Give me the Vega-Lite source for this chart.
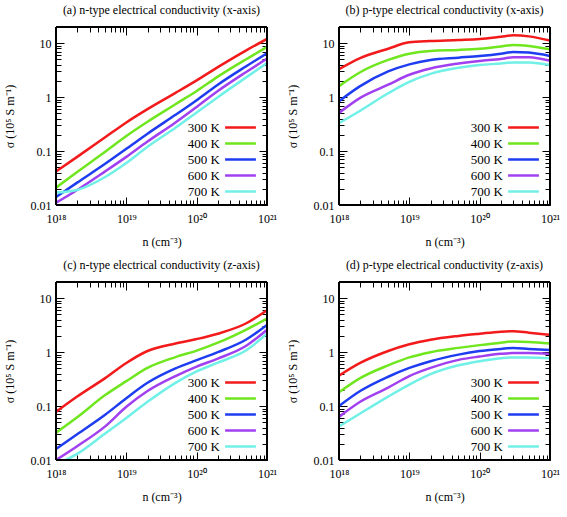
{
"$schema": "https://vega.github.io/schema/vega-lite/v6.json",
"background": "white",
"padding": {"left": 2, "top": 3, "right": 3, "bottom": 3},
"config": {
  "view": {"stroke": "#000000", "strokeWidth": 1},
  "font": "Liberation Serif",
  "axis": {"grid": false, "zindex": 1, "labelFont": "Liberation Serif", "labelFontSize": 12, "labelColor": "black", "titleFont": "Liberation Serif", "titleFontSize": 12, "titleFontWeight": "normal", "titleColor": "black", "tickColor": "#000000", "tickWidth": 1, "domainColor": "#000000", "labelOverlap": false, "labelFlush": false},
  "title": {"font": "Liberation Serif", "fontSize": 12, "fontWeight": "normal", "color": "black", "offset": 10, "anchor": "middle", "frame": "group"},
  "legend": {"orient": "bottom-right", "offset": 6, "padding": 0, "title": null}
},
"datasets": {"d": [
{"p":"a","T":"300 K","n":1e18,"s":0.042},{"p":"a","T":"300 K","n":2e18,"s":0.078},{"p":"a","T":"300 K","n":5e18,"s":0.18},{"p":"a","T":"300 K","n":1e19,"s":0.34},{"p":"a","T":"300 K","n":2e19,"s":0.6},{"p":"a","T":"300 K","n":5e19,"s":1.2},{"p":"a","T":"300 K","n":1e20,"s":2.05},{"p":"a","T":"300 K","n":2e20,"s":3.6},{"p":"a","T":"300 K","n":5e20,"s":7.3},{"p":"a","T":"300 K","n":1e21,"s":12},
{"p":"a","T":"400 K","n":1e18,"s":0.021},{"p":"a","T":"400 K","n":2e18,"s":0.041},{"p":"a","T":"400 K","n":5e18,"s":0.097},{"p":"a","T":"400 K","n":1e19,"s":0.19},{"p":"a","T":"400 K","n":2e19,"s":0.35},{"p":"a","T":"400 K","n":5e19,"s":0.74},{"p":"a","T":"400 K","n":1e20,"s":1.3},{"p":"a","T":"400 K","n":2e20,"s":2.4},{"p":"a","T":"400 K","n":5e20,"s":5.0},{"p":"a","T":"400 K","n":1e21,"s":8.5},
{"p":"a","T":"500 K","n":1e18,"s":0.014},{"p":"a","T":"500 K","n":2e18,"s":0.026},{"p":"a","T":"500 K","n":5e18,"s":0.058},{"p":"a","T":"500 K","n":1e19,"s":0.11},{"p":"a","T":"500 K","n":2e19,"s":0.21},{"p":"a","T":"500 K","n":5e19,"s":0.47},{"p":"a","T":"500 K","n":1e20,"s":0.88},{"p":"a","T":"500 K","n":2e20,"s":1.7},{"p":"a","T":"500 K","n":5e20,"s":3.7},{"p":"a","T":"500 K","n":1e21,"s":6.5},
{"p":"a","T":"600 K","n":1e18,"s":0.011},{"p":"a","T":"600 K","n":2e18,"s":0.019},{"p":"a","T":"600 K","n":5e18,"s":0.042},{"p":"a","T":"600 K","n":1e19,"s":0.078},{"p":"a","T":"600 K","n":2e19,"s":0.15},{"p":"a","T":"600 K","n":5e19,"s":0.34},{"p":"a","T":"600 K","n":1e20,"s":0.66},{"p":"a","T":"600 K","n":2e20,"s":1.3},{"p":"a","T":"600 K","n":5e20,"s":2.9},{"p":"a","T":"600 K","n":1e21,"s":5.2},
{"p":"a","T":"700 K","n":1e18,"s":0.017},{"p":"a","T":"700 K","n":2e18,"s":0.019},{"p":"a","T":"700 K","n":5e18,"s":0.033},{"p":"a","T":"700 K","n":1e19,"s":0.06},{"p":"a","T":"700 K","n":2e19,"s":0.12},{"p":"a","T":"700 K","n":5e19,"s":0.27},{"p":"a","T":"700 K","n":1e20,"s":0.52},{"p":"a","T":"700 K","n":2e20,"s":1.0},{"p":"a","T":"700 K","n":5e20,"s":2.3},{"p":"a","T":"700 K","n":1e21,"s":4.3},
{"p":"b","T":"300 K","n":1e18,"s":3.3},{"p":"b","T":"300 K","n":2e18,"s":5.3},{"p":"b","T":"300 K","n":5e18,"s":7.9},{"p":"b","T":"300 K","n":1e19,"s":10.4},{"p":"b","T":"300 K","n":2e19,"s":11},{"p":"b","T":"300 K","n":5e19,"s":11.5},{"p":"b","T":"300 K","n":1e20,"s":12},{"p":"b","T":"300 K","n":2e20,"s":13.2},{"p":"b","T":"300 K","n":3e20,"s":14},{"p":"b","T":"300 K","n":5e20,"s":13.4},{"p":"b","T":"300 K","n":1e21,"s":11.2},
{"p":"b","T":"400 K","n":1e18,"s":1.6},{"p":"b","T":"400 K","n":2e18,"s":2.9},{"p":"b","T":"400 K","n":5e18,"s":4.9},{"p":"b","T":"400 K","n":1e19,"s":6.4},{"p":"b","T":"400 K","n":2e19,"s":7.2},{"p":"b","T":"400 K","n":5e19,"s":7.5},{"p":"b","T":"400 K","n":1e20,"s":7.9},{"p":"b","T":"400 K","n":2e20,"s":8.7},{"p":"b","T":"400 K","n":3e20,"s":9.3},{"p":"b","T":"400 K","n":5e20,"s":8.9},{"p":"b","T":"400 K","n":1e21,"s":7.7},
{"p":"b","T":"500 K","n":1e18,"s":0.84},{"p":"b","T":"500 K","n":2e18,"s":1.6},{"p":"b","T":"500 K","n":5e18,"s":3.0},{"p":"b","T":"500 K","n":1e19,"s":4.06},{"p":"b","T":"500 K","n":2e19,"s":4.9},{"p":"b","T":"500 K","n":5e19,"s":5.4},{"p":"b","T":"500 K","n":1e20,"s":5.8},{"p":"b","T":"500 K","n":2e20,"s":6.4},{"p":"b","T":"500 K","n":3e20,"s":6.9},{"p":"b","T":"500 K","n":5e20,"s":6.7},{"p":"b","T":"500 K","n":1e21,"s":5.8},
{"p":"b","T":"600 K","n":1e18,"s":0.51},{"p":"b","T":"600 K","n":2e18,"s":0.97},{"p":"b","T":"600 K","n":5e18,"s":1.7},{"p":"b","T":"600 K","n":1e19,"s":2.6},{"p":"b","T":"600 K","n":2e19,"s":3.4},{"p":"b","T":"600 K","n":5e19,"s":4.2},{"p":"b","T":"600 K","n":1e20,"s":4.7},{"p":"b","T":"600 K","n":2e20,"s":5.1},{"p":"b","T":"600 K","n":3e20,"s":5.5},{"p":"b","T":"600 K","n":5e20,"s":5.5},{"p":"b","T":"600 K","n":1e21,"s":4.7},
{"p":"b","T":"700 K","n":1e18,"s":0.33},{"p":"b","T":"700 K","n":2e18,"s":0.56},{"p":"b","T":"700 K","n":5e18,"s":1.18},{"p":"b","T":"700 K","n":1e19,"s":1.92},{"p":"b","T":"700 K","n":2e19,"s":2.7},{"p":"b","T":"700 K","n":5e19,"s":3.5},{"p":"b","T":"700 K","n":1e20,"s":3.95},{"p":"b","T":"700 K","n":2e20,"s":4.2},{"p":"b","T":"700 K","n":3e20,"s":4.4},{"p":"b","T":"700 K","n":5e20,"s":4.4},{"p":"b","T":"700 K","n":1e21,"s":3.95},
{"p":"c","T":"300 K","n":1e18,"s":0.078},{"p":"c","T":"300 K","n":2e18,"s":0.15},{"p":"c","T":"300 K","n":5e18,"s":0.33},{"p":"c","T":"300 K","n":1e19,"s":0.63},{"p":"c","T":"300 K","n":2e19,"s":1.05},{"p":"c","T":"300 K","n":5e19,"s":1.45},{"p":"c","T":"300 K","n":1e20,"s":1.75},{"p":"c","T":"300 K","n":2e20,"s":2.2},{"p":"c","T":"300 K","n":5e20,"s":3.4},{"p":"c","T":"300 K","n":1e21,"s":6.0},
{"p":"c","T":"400 K","n":1e18,"s":0.032},{"p":"c","T":"400 K","n":2e18,"s":0.062},{"p":"c","T":"400 K","n":5e18,"s":0.16},{"p":"c","T":"400 K","n":1e19,"s":0.29},{"p":"c","T":"400 K","n":2e19,"s":0.51},{"p":"c","T":"400 K","n":5e19,"s":0.81},{"p":"c","T":"400 K","n":1e20,"s":1.07},{"p":"c","T":"400 K","n":2e20,"s":1.5},{"p":"c","T":"400 K","n":5e20,"s":2.6},{"p":"c","T":"400 K","n":1e21,"s":4.2},
{"p":"c","T":"500 K","n":1e18,"s":0.016},{"p":"c","T":"500 K","n":2e18,"s":0.03},{"p":"c","T":"500 K","n":5e18,"s":0.069},{"p":"c","T":"500 K","n":1e19,"s":0.14},{"p":"c","T":"500 K","n":2e19,"s":0.27},{"p":"c","T":"500 K","n":5e19,"s":0.5},{"p":"c","T":"500 K","n":1e20,"s":0.71},{"p":"c","T":"500 K","n":2e20,"s":1.0},{"p":"c","T":"500 K","n":5e20,"s":1.7},{"p":"c","T":"500 K","n":1e21,"s":3.2},
{"p":"c","T":"600 K","n":1e18,"s":0.01},{"p":"c","T":"600 K","n":2e18,"s":0.018},{"p":"c","T":"600 K","n":5e18,"s":0.042},{"p":"c","T":"600 K","n":1e19,"s":0.097},{"p":"c","T":"600 K","n":2e19,"s":0.19},{"p":"c","T":"600 K","n":5e19,"s":0.36},{"p":"c","T":"600 K","n":1e20,"s":0.54},{"p":"c","T":"600 K","n":2e20,"s":0.76},{"p":"c","T":"600 K","n":5e20,"s":1.3},{"p":"c","T":"600 K","n":1e21,"s":2.6},
{"p":"c","T":"700 K","n":1e18,"s":0.0082},{"p":"c","T":"700 K","n":2e18,"s":0.013},{"p":"c","T":"700 K","n":5e18,"s":0.031},{"p":"c","T":"700 K","n":1e19,"s":0.06},{"p":"c","T":"700 K","n":2e19,"s":0.12},{"p":"c","T":"700 K","n":5e19,"s":0.27},{"p":"c","T":"700 K","n":1e20,"s":0.44},{"p":"c","T":"700 K","n":2e20,"s":0.64},{"p":"c","T":"700 K","n":5e20,"s":1.07},{"p":"c","T":"700 K","n":1e21,"s":2.2},
{"p":"d","T":"300 K","n":1e18,"s":0.366},{"p":"d","T":"300 K","n":2e18,"s":0.63},{"p":"d","T":"300 K","n":5e18,"s":1.05},{"p":"d","T":"300 K","n":1e19,"s":1.4},{"p":"d","T":"300 K","n":2e19,"s":1.7},{"p":"d","T":"300 K","n":5e19,"s":2.0},{"p":"d","T":"300 K","n":1e20,"s":2.2},{"p":"d","T":"300 K","n":2e20,"s":2.4},{"p":"d","T":"300 K","n":3e20,"s":2.45},{"p":"d","T":"300 K","n":5e20,"s":2.3},{"p":"d","T":"300 K","n":1e21,"s":2.1},
{"p":"d","T":"400 K","n":1e18,"s":0.18},{"p":"d","T":"400 K","n":2e18,"s":0.33},{"p":"d","T":"400 K","n":5e18,"s":0.57},{"p":"d","T":"400 K","n":1e19,"s":0.8},{"p":"d","T":"400 K","n":2e19,"s":1.0},{"p":"d","T":"400 K","n":5e19,"s":1.2},{"p":"d","T":"400 K","n":1e20,"s":1.35},{"p":"d","T":"400 K","n":2e20,"s":1.5},{"p":"d","T":"400 K","n":3e20,"s":1.58},{"p":"d","T":"400 K","n":5e20,"s":1.55},{"p":"d","T":"400 K","n":1e21,"s":1.45},
{"p":"d","T":"500 K","n":1e18,"s":0.1},{"p":"d","T":"500 K","n":2e18,"s":0.19},{"p":"d","T":"500 K","n":5e18,"s":0.35},{"p":"d","T":"500 K","n":1e19,"s":0.51},{"p":"d","T":"500 K","n":2e19,"s":0.68},{"p":"d","T":"500 K","n":5e19,"s":0.9},{"p":"d","T":"500 K","n":1e20,"s":1.05},{"p":"d","T":"500 K","n":2e20,"s":1.15},{"p":"d","T":"500 K","n":3e20,"s":1.2},{"p":"d","T":"500 K","n":5e20,"s":1.15},{"p":"d","T":"500 K","n":1e21,"s":1.1},
{"p":"d","T":"600 K","n":1e18,"s":0.063},{"p":"d","T":"600 K","n":2e18,"s":0.12},{"p":"d","T":"600 K","n":5e18,"s":0.22},{"p":"d","T":"600 K","n":1e19,"s":0.36},{"p":"d","T":"600 K","n":2e19,"s":0.51},{"p":"d","T":"600 K","n":5e19,"s":0.72},{"p":"d","T":"600 K","n":1e20,"s":0.83},{"p":"d","T":"600 K","n":2e20,"s":0.93},{"p":"d","T":"600 K","n":3e20,"s":0.96},{"p":"d","T":"600 K","n":5e20,"s":0.96},{"p":"d","T":"600 K","n":1e21,"s":0.92},
{"p":"d","T":"700 K","n":1e18,"s":0.042},{"p":"d","T":"700 K","n":2e18,"s":0.073},{"p":"d","T":"700 K","n":5e18,"s":0.15},{"p":"d","T":"700 K","n":1e19,"s":0.25},{"p":"d","T":"700 K","n":2e19,"s":0.39},{"p":"d","T":"700 K","n":5e19,"s":0.57},{"p":"d","T":"700 K","n":1e20,"s":0.68},{"p":"d","T":"700 K","n":2e20,"s":0.77},{"p":"d","T":"700 K","n":3e20,"s":0.8},{"p":"d","T":"700 K","n":5e20,"s":0.8},{"p":"d","T":"700 K","n":1e21,"s":0.77}
]},
"columns": 2,
"spacing": {"row": 10, "column": 7},
"resolve": {"scale": {"x": "independent", "y": "independent", "color": "independent"}, "legend": {"color": "independent"}},
"concat": [
 {"title": {"text": "(a) n-type electrical conductivity (x-axis)", "font": "Liberation Serif", "fontSize": 12, "fontWeight": "normal"}, "width": 211, "height": 178, "view": {"stroke": "black", "strokeWidth": 1}, "data": {"name": "d"}, "transform": [{"filter": "datum.p == 'a'"}],
  "layer": [
   {"mark": {"type": "line", "strokeWidth": 2.5, "interpolate": "monotone", "clip": true},
    "encoding": {
     "x": {"field": "n", "type": "quantitative", "scale": {"type": "log", "domain": [1e18, 1e21], "nice": false}, "axis": {"orient": "bottom", "title": "n  (cm⁻³)", "ticks": false, "domain": false, "labelPadding": 8, "titlePadding": 12, "labelFont": "Liberation Serif", "titleFont": "Liberation Serif", "values": [1e18,1e19,1e20,1e21], "labelExpr": "'10' + ['¹⁸','¹⁹','²⁰','²¹'][round(log(datum.value)/LN10)-18]"}},
     "y": {"field": "s", "type": "quantitative", "scale": {"type": "log", "domain": [0.01, 20], "nice": false}, "axis": {"orient": "left", "title": "σ (10⁵ S m⁻¹)", "ticks": false, "domain": false, "labelPadding": 5, "titlePadding": 14, "labelFont": "Liberation Serif", "titleFont": "Liberation Serif", "values": [0.01,0.1,1,10], "labelExpr": "['0.01','0.1','1','10'][round(log(datum.value)/LN10)+2]"}},
     "color": {"field": "T", "type": "nominal", "scale": {"domain": ["300 K","400 K","500 K","600 K","700 K"], "range": ["#f21a1a","#6fe61e","#1e3cf0","#a040f0","#70f0e6"]}, "legend": {"orient": "bottom-right", "title": null, "offset": 6, "padding": 0, "symbolType": "M-2.2,0H2.2", "symbolSize": 196, "symbolStrokeWidth": 2.5, "labelFont": "Liberation Serif", "labelFontSize": 13, "labelColor": "black", "labelAlign": "right", "labelOffset": -29, "rowPadding": -3}}
    }},
   {"mark": {"type": "rect", "fill": null, "stroke": "black", "strokeWidth": 1, "clip": false},
    "encoding": {
     "x": {"datum": 1e18, "type": "quantitative", "scale": {"type": "log", "domain": [1e18, 1e21], "nice": false}, "axis": {"orient": "top", "title": null, "labels": false, "ticks": true, "domain": false, "values": [1e18,2e18,3e18,4e18,5e18,6e18,7e18,8e18,9e18,1e19,2e19,3e19,4e19,5e19,6e19,7e19,8e19,9e19,1e20,2e20,3e20,4e20,5e20,6e20,7e20,8e20,9e20,1e21], "tickSize": {"condition": {"test": "abs(log(datum.value)/LN10 - round(log(datum.value)/LN10)) < 0.01", "value": -8}, "value": -5}}},
     "x2": {"datum": 1e21},
     "y": {"datum": 0.01, "type": "quantitative", "scale": {"type": "log", "domain": [0.01, 20], "nice": false}, "axis": {"orient": "right", "title": null, "labels": false, "ticks": true, "domain": false, "values": [0.01,0.02,0.03,0.04,0.05,0.06,0.07,0.08,0.09,0.1,0.2,0.3,0.4,0.5,0.6,0.7,0.8,0.9,1,2,3,4,5,6,7,8,9,10,20], "tickSize": {"condition": {"test": "abs(log(datum.value)/LN10 - round(log(datum.value)/LN10)) < 0.01", "value": -8}, "value": -5}}},
     "y2": {"datum": 20}
    }},
   {"mark": {"type": "rect", "fill": null, "strokeOpacity": 0, "clip": false},
    "encoding": {
     "x": {"datum": 1e18, "type": "quantitative", "scale": {"type": "log", "domain": [1e18, 1e21], "nice": false}, "axis": {"orient": "bottom", "title": null, "labels": false, "ticks": true, "domain": false, "values": [1e18,2e18,3e18,4e18,5e18,6e18,7e18,8e18,9e18,1e19,2e19,3e19,4e19,5e19,6e19,7e19,8e19,9e19,1e20,2e20,3e20,4e20,5e20,6e20,7e20,8e20,9e20,1e21], "tickSize": {"condition": {"test": "abs(log(datum.value)/LN10 - round(log(datum.value)/LN10)) < 0.01", "value": -8}, "value": -5}}},
     "x2": {"datum": 1e21},
     "y": {"datum": 0.01, "type": "quantitative", "scale": {"type": "log", "domain": [0.01, 20], "nice": false}, "axis": {"orient": "left", "title": null, "labels": false, "ticks": true, "domain": false, "values": [0.01,0.02,0.03,0.04,0.05,0.06,0.07,0.08,0.09,0.1,0.2,0.3,0.4,0.5,0.6,0.7,0.8,0.9,1,2,3,4,5,6,7,8,9,10,20], "tickSize": {"condition": {"test": "abs(log(datum.value)/LN10 - round(log(datum.value)/LN10)) < 0.01", "value": -8}, "value": -5}}},
     "y2": {"datum": 20}
    }}
  ],
  "resolve": {"axis": {"x": "independent", "y": "independent"}}
 },
 {"title": {"text": "(b) p-type electrical conductivity (x-axis)", "font": "Liberation Serif", "fontSize": 12, "fontWeight": "normal"}, "width": 211, "height": 178, "view": {"stroke": "black", "strokeWidth": 1}, "data": {"name": "d"}, "transform": [{"filter": "datum.p == 'b'"}],
  "layer": [
   {"mark": {"type": "line", "strokeWidth": 2.5, "interpolate": "monotone", "clip": true},
    "encoding": {
     "x": {"field": "n", "type": "quantitative", "scale": {"type": "log", "domain": [1e18, 1e21], "nice": false}, "axis": {"orient": "bottom", "title": "n  (cm⁻³)", "ticks": false, "domain": false, "labelPadding": 8, "titlePadding": 12, "labelFont": "Liberation Serif", "titleFont": "Liberation Serif", "values": [1e18,1e19,1e20,1e21], "labelExpr": "'10' + ['¹⁸','¹⁹','²⁰','²¹'][round(log(datum.value)/LN10)-18]"}},
     "y": {"field": "s", "type": "quantitative", "scale": {"type": "log", "domain": [0.01, 20], "nice": false}, "axis": {"orient": "left", "title": "σ (10⁵ S m⁻¹)", "ticks": false, "domain": false, "labelPadding": 5, "titlePadding": 14, "labelFont": "Liberation Serif", "titleFont": "Liberation Serif", "values": [0.01,0.1,1,10], "labelExpr": "['0.01','0.1','1','10'][round(log(datum.value)/LN10)+2]"}},
     "color": {"field": "T", "type": "nominal", "scale": {"domain": ["300 K","400 K","500 K","600 K","700 K"], "range": ["#f21a1a","#6fe61e","#1e3cf0","#a040f0","#70f0e6"]}, "legend": {"orient": "bottom-right", "title": null, "offset": 6, "padding": 0, "symbolType": "M-2.2,0H2.2", "symbolSize": 196, "symbolStrokeWidth": 2.5, "labelFont": "Liberation Serif", "labelFontSize": 13, "labelColor": "black", "labelAlign": "right", "labelOffset": -29, "rowPadding": -3}}
    }},
   {"mark": {"type": "rect", "fill": null, "stroke": "black", "strokeWidth": 1, "clip": false},
    "encoding": {
     "x": {"datum": 1e18, "type": "quantitative", "scale": {"type": "log", "domain": [1e18, 1e21], "nice": false}, "axis": {"orient": "top", "title": null, "labels": false, "ticks": true, "domain": false, "values": [1e18,2e18,3e18,4e18,5e18,6e18,7e18,8e18,9e18,1e19,2e19,3e19,4e19,5e19,6e19,7e19,8e19,9e19,1e20,2e20,3e20,4e20,5e20,6e20,7e20,8e20,9e20,1e21], "tickSize": {"condition": {"test": "abs(log(datum.value)/LN10 - round(log(datum.value)/LN10)) < 0.01", "value": -8}, "value": -5}}},
     "x2": {"datum": 1e21},
     "y": {"datum": 0.01, "type": "quantitative", "scale": {"type": "log", "domain": [0.01, 20], "nice": false}, "axis": {"orient": "right", "title": null, "labels": false, "ticks": true, "domain": false, "values": [0.01,0.02,0.03,0.04,0.05,0.06,0.07,0.08,0.09,0.1,0.2,0.3,0.4,0.5,0.6,0.7,0.8,0.9,1,2,3,4,5,6,7,8,9,10,20], "tickSize": {"condition": {"test": "abs(log(datum.value)/LN10 - round(log(datum.value)/LN10)) < 0.01", "value": -8}, "value": -5}}},
     "y2": {"datum": 20}
    }},
   {"mark": {"type": "rect", "fill": null, "strokeOpacity": 0, "clip": false},
    "encoding": {
     "x": {"datum": 1e18, "type": "quantitative", "scale": {"type": "log", "domain": [1e18, 1e21], "nice": false}, "axis": {"orient": "bottom", "title": null, "labels": false, "ticks": true, "domain": false, "values": [1e18,2e18,3e18,4e18,5e18,6e18,7e18,8e18,9e18,1e19,2e19,3e19,4e19,5e19,6e19,7e19,8e19,9e19,1e20,2e20,3e20,4e20,5e20,6e20,7e20,8e20,9e20,1e21], "tickSize": {"condition": {"test": "abs(log(datum.value)/LN10 - round(log(datum.value)/LN10)) < 0.01", "value": -8}, "value": -5}}},
     "x2": {"datum": 1e21},
     "y": {"datum": 0.01, "type": "quantitative", "scale": {"type": "log", "domain": [0.01, 20], "nice": false}, "axis": {"orient": "left", "title": null, "labels": false, "ticks": true, "domain": false, "values": [0.01,0.02,0.03,0.04,0.05,0.06,0.07,0.08,0.09,0.1,0.2,0.3,0.4,0.5,0.6,0.7,0.8,0.9,1,2,3,4,5,6,7,8,9,10,20], "tickSize": {"condition": {"test": "abs(log(datum.value)/LN10 - round(log(datum.value)/LN10)) < 0.01", "value": -8}, "value": -5}}},
     "y2": {"datum": 20}
    }}
  ],
  "resolve": {"axis": {"x": "independent", "y": "independent"}}
 },
 {"title": {"text": "(c) n-type electrical conductivity (z-axis)", "font": "Liberation Serif", "fontSize": 12, "fontWeight": "normal"}, "width": 211, "height": 178, "view": {"stroke": "black", "strokeWidth": 1}, "data": {"name": "d"}, "transform": [{"filter": "datum.p == 'c'"}],
  "layer": [
   {"mark": {"type": "line", "strokeWidth": 2.5, "interpolate": "monotone", "clip": true},
    "encoding": {
     "x": {"field": "n", "type": "quantitative", "scale": {"type": "log", "domain": [1e18, 1e21], "nice": false}, "axis": {"orient": "bottom", "title": "n  (cm⁻³)", "ticks": false, "domain": false, "labelPadding": 8, "titlePadding": 12, "labelFont": "Liberation Serif", "titleFont": "Liberation Serif", "values": [1e18,1e19,1e20,1e21], "labelExpr": "'10' + ['¹⁸','¹⁹','²⁰','²¹'][round(log(datum.value)/LN10)-18]"}},
     "y": {"field": "s", "type": "quantitative", "scale": {"type": "log", "domain": [0.01, 20], "nice": false}, "axis": {"orient": "left", "title": "σ (10⁵ S m⁻¹)", "ticks": false, "domain": false, "labelPadding": 5, "titlePadding": 14, "labelFont": "Liberation Serif", "titleFont": "Liberation Serif", "values": [0.01,0.1,1,10], "labelExpr": "['0.01','0.1','1','10'][round(log(datum.value)/LN10)+2]"}},
     "color": {"field": "T", "type": "nominal", "scale": {"domain": ["300 K","400 K","500 K","600 K","700 K"], "range": ["#f21a1a","#6fe61e","#1e3cf0","#a040f0","#70f0e6"]}, "legend": {"orient": "bottom-right", "title": null, "offset": 6, "padding": 0, "symbolType": "M-2.2,0H2.2", "symbolSize": 196, "symbolStrokeWidth": 2.5, "labelFont": "Liberation Serif", "labelFontSize": 13, "labelColor": "black", "labelAlign": "right", "labelOffset": -29, "rowPadding": -3}}
    }},
   {"mark": {"type": "rect", "fill": null, "stroke": "black", "strokeWidth": 1, "clip": false},
    "encoding": {
     "x": {"datum": 1e18, "type": "quantitative", "scale": {"type": "log", "domain": [1e18, 1e21], "nice": false}, "axis": {"orient": "top", "title": null, "labels": false, "ticks": true, "domain": false, "values": [1e18,2e18,3e18,4e18,5e18,6e18,7e18,8e18,9e18,1e19,2e19,3e19,4e19,5e19,6e19,7e19,8e19,9e19,1e20,2e20,3e20,4e20,5e20,6e20,7e20,8e20,9e20,1e21], "tickSize": {"condition": {"test": "abs(log(datum.value)/LN10 - round(log(datum.value)/LN10)) < 0.01", "value": -8}, "value": -5}}},
     "x2": {"datum": 1e21},
     "y": {"datum": 0.01, "type": "quantitative", "scale": {"type": "log", "domain": [0.01, 20], "nice": false}, "axis": {"orient": "right", "title": null, "labels": false, "ticks": true, "domain": false, "values": [0.01,0.02,0.03,0.04,0.05,0.06,0.07,0.08,0.09,0.1,0.2,0.3,0.4,0.5,0.6,0.7,0.8,0.9,1,2,3,4,5,6,7,8,9,10,20], "tickSize": {"condition": {"test": "abs(log(datum.value)/LN10 - round(log(datum.value)/LN10)) < 0.01", "value": -8}, "value": -5}}},
     "y2": {"datum": 20}
    }},
   {"mark": {"type": "rect", "fill": null, "strokeOpacity": 0, "clip": false},
    "encoding": {
     "x": {"datum": 1e18, "type": "quantitative", "scale": {"type": "log", "domain": [1e18, 1e21], "nice": false}, "axis": {"orient": "bottom", "title": null, "labels": false, "ticks": true, "domain": false, "values": [1e18,2e18,3e18,4e18,5e18,6e18,7e18,8e18,9e18,1e19,2e19,3e19,4e19,5e19,6e19,7e19,8e19,9e19,1e20,2e20,3e20,4e20,5e20,6e20,7e20,8e20,9e20,1e21], "tickSize": {"condition": {"test": "abs(log(datum.value)/LN10 - round(log(datum.value)/LN10)) < 0.01", "value": -8}, "value": -5}}},
     "x2": {"datum": 1e21},
     "y": {"datum": 0.01, "type": "quantitative", "scale": {"type": "log", "domain": [0.01, 20], "nice": false}, "axis": {"orient": "left", "title": null, "labels": false, "ticks": true, "domain": false, "values": [0.01,0.02,0.03,0.04,0.05,0.06,0.07,0.08,0.09,0.1,0.2,0.3,0.4,0.5,0.6,0.7,0.8,0.9,1,2,3,4,5,6,7,8,9,10,20], "tickSize": {"condition": {"test": "abs(log(datum.value)/LN10 - round(log(datum.value)/LN10)) < 0.01", "value": -8}, "value": -5}}},
     "y2": {"datum": 20}
    }}
  ],
  "resolve": {"axis": {"x": "independent", "y": "independent"}}
 },
 {"title": {"text": "(d) p-type electrical conductivity (z-axis)", "font": "Liberation Serif", "fontSize": 12, "fontWeight": "normal"}, "width": 211, "height": 178, "view": {"stroke": "black", "strokeWidth": 1}, "data": {"name": "d"}, "transform": [{"filter": "datum.p == 'd'"}],
  "layer": [
   {"mark": {"type": "line", "strokeWidth": 2.5, "interpolate": "monotone", "clip": true},
    "encoding": {
     "x": {"field": "n", "type": "quantitative", "scale": {"type": "log", "domain": [1e18, 1e21], "nice": false}, "axis": {"orient": "bottom", "title": "n  (cm⁻³)", "ticks": false, "domain": false, "labelPadding": 8, "titlePadding": 12, "labelFont": "Liberation Serif", "titleFont": "Liberation Serif", "values": [1e18,1e19,1e20,1e21], "labelExpr": "'10' + ['¹⁸','¹⁹','²⁰','²¹'][round(log(datum.value)/LN10)-18]"}},
     "y": {"field": "s", "type": "quantitative", "scale": {"type": "log", "domain": [0.01, 20], "nice": false}, "axis": {"orient": "left", "title": "σ (10⁵ S m⁻¹)", "ticks": false, "domain": false, "labelPadding": 5, "titlePadding": 14, "labelFont": "Liberation Serif", "titleFont": "Liberation Serif", "values": [0.01,0.1,1,10], "labelExpr": "['0.01','0.1','1','10'][round(log(datum.value)/LN10)+2]"}},
     "color": {"field": "T", "type": "nominal", "scale": {"domain": ["300 K","400 K","500 K","600 K","700 K"], "range": ["#f21a1a","#6fe61e","#1e3cf0","#a040f0","#70f0e6"]}, "legend": {"orient": "bottom-right", "title": null, "offset": 6, "padding": 0, "symbolType": "M-2.2,0H2.2", "symbolSize": 196, "symbolStrokeWidth": 2.5, "labelFont": "Liberation Serif", "labelFontSize": 13, "labelColor": "black", "labelAlign": "right", "labelOffset": -29, "rowPadding": -3}}
    }},
   {"mark": {"type": "rect", "fill": null, "stroke": "black", "strokeWidth": 1, "clip": false},
    "encoding": {
     "x": {"datum": 1e18, "type": "quantitative", "scale": {"type": "log", "domain": [1e18, 1e21], "nice": false}, "axis": {"orient": "top", "title": null, "labels": false, "ticks": true, "domain": false, "values": [1e18,2e18,3e18,4e18,5e18,6e18,7e18,8e18,9e18,1e19,2e19,3e19,4e19,5e19,6e19,7e19,8e19,9e19,1e20,2e20,3e20,4e20,5e20,6e20,7e20,8e20,9e20,1e21], "tickSize": {"condition": {"test": "abs(log(datum.value)/LN10 - round(log(datum.value)/LN10)) < 0.01", "value": -8}, "value": -5}}},
     "x2": {"datum": 1e21},
     "y": {"datum": 0.01, "type": "quantitative", "scale": {"type": "log", "domain": [0.01, 20], "nice": false}, "axis": {"orient": "right", "title": null, "labels": false, "ticks": true, "domain": false, "values": [0.01,0.02,0.03,0.04,0.05,0.06,0.07,0.08,0.09,0.1,0.2,0.3,0.4,0.5,0.6,0.7,0.8,0.9,1,2,3,4,5,6,7,8,9,10,20], "tickSize": {"condition": {"test": "abs(log(datum.value)/LN10 - round(log(datum.value)/LN10)) < 0.01", "value": -8}, "value": -5}}},
     "y2": {"datum": 20}
    }},
   {"mark": {"type": "rect", "fill": null, "strokeOpacity": 0, "clip": false},
    "encoding": {
     "x": {"datum": 1e18, "type": "quantitative", "scale": {"type": "log", "domain": [1e18, 1e21], "nice": false}, "axis": {"orient": "bottom", "title": null, "labels": false, "ticks": true, "domain": false, "values": [1e18,2e18,3e18,4e18,5e18,6e18,7e18,8e18,9e18,1e19,2e19,3e19,4e19,5e19,6e19,7e19,8e19,9e19,1e20,2e20,3e20,4e20,5e20,6e20,7e20,8e20,9e20,1e21], "tickSize": {"condition": {"test": "abs(log(datum.value)/LN10 - round(log(datum.value)/LN10)) < 0.01", "value": -8}, "value": -5}}},
     "x2": {"datum": 1e21},
     "y": {"datum": 0.01, "type": "quantitative", "scale": {"type": "log", "domain": [0.01, 20], "nice": false}, "axis": {"orient": "left", "title": null, "labels": false, "ticks": true, "domain": false, "values": [0.01,0.02,0.03,0.04,0.05,0.06,0.07,0.08,0.09,0.1,0.2,0.3,0.4,0.5,0.6,0.7,0.8,0.9,1,2,3,4,5,6,7,8,9,10,20], "tickSize": {"condition": {"test": "abs(log(datum.value)/LN10 - round(log(datum.value)/LN10)) < 0.01", "value": -8}, "value": -5}}},
     "y2": {"datum": 20}
    }}
  ],
  "resolve": {"axis": {"x": "independent", "y": "independent"}}
 }
]
}
